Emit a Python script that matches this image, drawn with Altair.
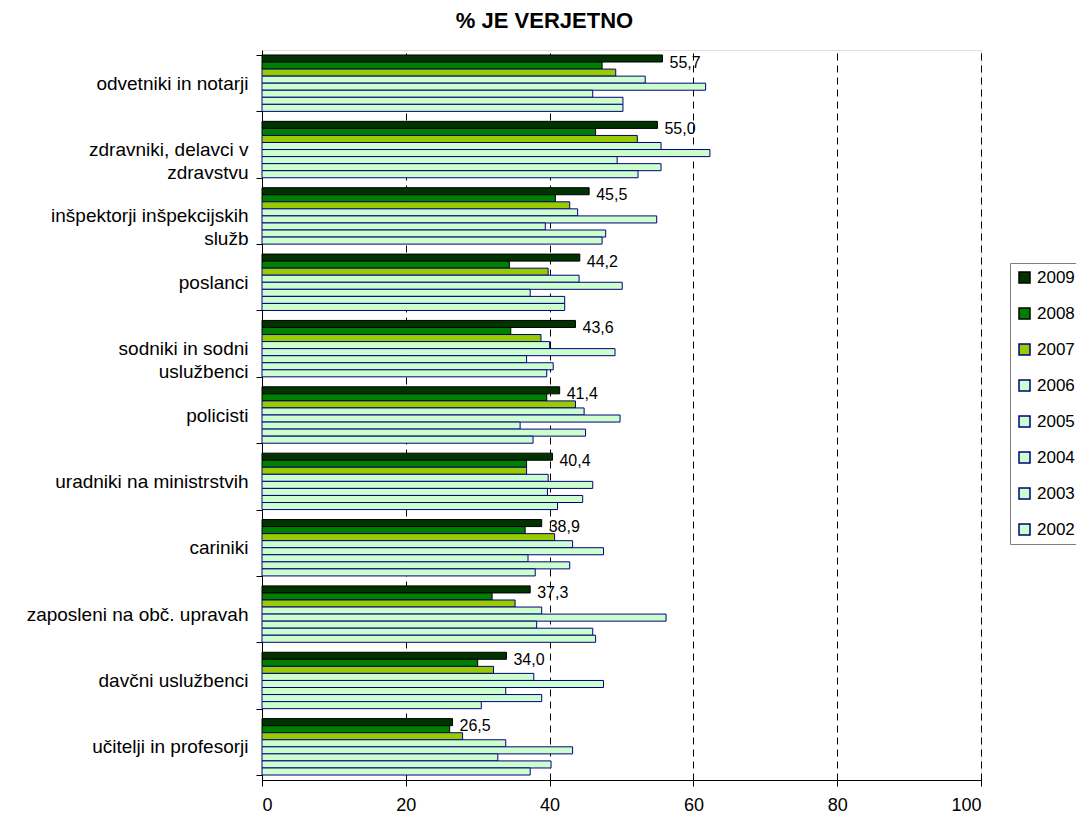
import altair as alt
import pandas as pd

categories = [
    "odvetniki in notarji",
    "zdravniki, delavci v\nzdravstvu",
    "inšpektorji inšpekcijskih\nslužb",
    "poslanci",
    "sodniki in sodni\nuslužbenci",
    "policisti",
    "uradniki na ministrstvih",
    "cariniki",
    "zaposleni na obč. upravah",
    "davčni uslužbenci",
    "učitelji in profesorji",
]
years = ["2009", "2008", "2007", "2006", "2005", "2004", "2003", "2002"]

v2009 = [55.7, 55.0, 45.5, 44.2, 43.6, 41.4, 40.4, 38.9, 37.3, 34.0, 26.5]
v2008 = [47.3, 46.4, 40.8, 34.4, 34.6, 39.6, 36.8, 36.6, 32.0, 30.0, 26.1]
v2007 = [49.2, 52.2, 42.8, 39.8, 38.8, 43.6, 36.8, 40.7, 35.2, 32.2, 27.9]
v2006 = [53.3, 55.5, 43.9, 44.1, 40.0, 44.8, 39.8, 43.2, 38.9, 37.8, 33.9]
v2005 = [61.7, 62.3, 54.9, 50.1, 49.1, 49.8, 46.0, 47.5, 56.2, 47.5, 43.2]
v2004 = [46.0, 49.4, 39.4, 37.3, 36.8, 35.9, 39.7, 37.0, 38.2, 33.9, 32.8]
v2003 = [50.2, 55.5, 47.8, 42.1, 40.5, 45.0, 44.6, 42.8, 46.0, 38.9, 40.2]
v2002 = [50.2, 52.3, 47.3, 42.1, 39.6, 37.7, 41.1, 38.0, 46.4, 30.5, 37.3]

fill_colors = ["#003300", "#008000", "#99CC00", "#CCFFCC", "#CCFFCC", "#CCFFCC", "#CCFFCC", "#CCFFCC"]
stroke_colors = ["#000000", "#000000", "#000080", "#000080", "#000080", "#000080", "#000080", "#000080"]

series = [v2009, v2008, v2007, v2006, v2005, v2004, v2003, v2002]
rows = []
for yr, vals in zip(years, series):
    for cat, v in zip(categories, vals):
        rows.append({"cat": cat, "year": yr, "value": v})
df = pd.DataFrame(rows)

FONT = "Liberation Sans"

legend_def = alt.Legend(
    orient="none", legendX=748, legendY=213, title=None,
    symbolType="square", symbolSize=121, symbolStrokeWidth=1.5,
    labelFontSize=17, labelFont=FONT, labelColor="#000000", labelOffset=4,
    labelLimit=0, rowPadding=18, padding=6, strokeColor="#808080",
)

y_enc = alt.Y("cat:N", sort=categories,
              scale=alt.Scale(domain=categories, paddingInner=0.15, paddingOuter=0.075),
              axis=alt.Axis(title=None, labelExpr="split(datum.label, '\\n')",
                            labelFontSize=19, labelFont=FONT, labelColor="#000000",
                            labelLineHeight=23, labelPadding=8, tickSize=6,
                            labelLimit=0,
                            tickBand="extent", tickColor="#000000",
                            domainColor="#000000", grid=False, labelAlign="right"))
yoff_enc = alt.YOffset("year:N", sort=years,
                       scale=alt.Scale(domain=years, paddingInner=0, paddingOuter=0))

x_enc = alt.X("value:Q",
              scale=alt.Scale(domain=[0, 100], nice=False),
              axis=alt.Axis(title=None, values=[0, 20, 40, 60, 80, 100],
                            labelFontSize=18, labelFont=FONT, labelColor="#000000",
                            labelPadding=10, tickSize=6, tickColor="#000000",
                            domainColor="#000000", grid=True, gridColor="#000000",
                            gridDash=[7, 5], gridWidth=1, gridOpacity=1))

bars = alt.Chart(df).mark_bar(strokeWidth=1, strokeOpacity=1).encode(
    y=y_enc,
    yOffset=yoff_enc,
    x=x_enc,
    fill=alt.Fill("year:N", sort=years,
                  scale=alt.Scale(domain=years, range=fill_colors), legend=legend_def),
    stroke=alt.Stroke("year:N", sort=years,
                      scale=alt.Scale(domain=years, range=stroke_colors), legend=legend_def),
)

labels = alt.Chart(df).transform_filter(
    alt.datum.year == "2009"
).transform_calculate(
    lbl="replace(format(datum.value, '.1f'), '.', ',')"
).mark_text(align="left", baseline="middle", dx=7, dy=4,
            fontSize=16, font=FONT, color="#000000").encode(
    y=alt.Y("cat:N", sort=categories),
    yOffset=alt.YOffset("year:N", sort=years),
    x=alt.X("value:Q"),
    text="lbl:N",
)

chart = alt.layer(bars, labels).properties(
    width=719,
    height=730,
    title=alt.TitleParams("% JE VERJETNO", fontSize=22, fontWeight="bold", font=FONT,
                          color="#000000", anchor="middle", dx=-77, offset=8),
    autosize=alt.AutoSizeParams(type="none"),
    padding={"left": 254, "top": 42, "right": 95, "bottom": 35},
    background="white",
).configure_view(
    stroke="#808080", strokeWidth=1
).configure(font=FONT)

chart.save("out.html", embed_options={"renderer": "svg", "actions": False})
